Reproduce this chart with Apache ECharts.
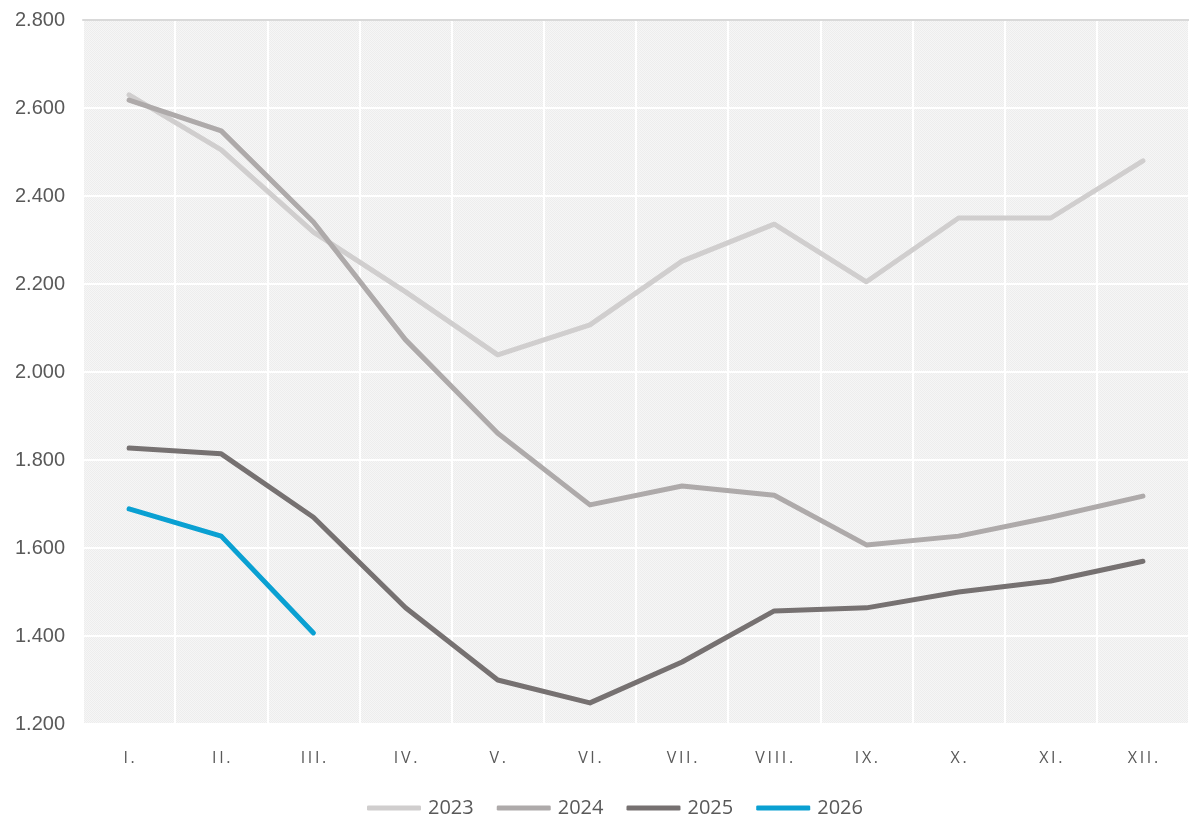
<!DOCTYPE html>
<html><head><meta charset="utf-8">
<script src="https://cdn.jsdelivr.net/npm/echarts@6/dist/echarts.min.js"></script>
<style>html,body{margin:0;padding:0;background:#fff}#c{width:1189px;height:816px}</style>
</head><body><div id="c"></div>
<script>
const categories = ['I.','II.','III.','IV.','V.','VI.','VII.','VIII.','IX.','X.','XI.','XII.'];
const s2023 = [2630,2505,2318,2182,2039,2107,2252,2336,2205,2350,2350,2480];
const s2024 = [2618,2548,2341,2073,1861,1698,1741,1720,1607,1627,1670,1718];
const s2025 = [1827,1814,1670,1464,1300,1248,1341,1457,1464,1500,1525,1570];
const s2026 = [1689,1627,1407];
const seriesNames = ['2023','2024','2025','2026'];
const seriesColors = ['#d0cece','#aeaaaa','#767171','#0aa0d2'];

// hatched background pattern
const pc = document.createElement('canvas');
pc.width = 4; pc.height = 4;
const px = pc.getContext('2d');
px.fillStyle = '#f6f6f6'; px.fillRect(0,0,4,4);
px.fillStyle = '#ededed';
px.fillRect(0,0,1,1); px.fillRect(2,0,1,1); px.fillRect(1,1,1,1); px.fillRect(3,1,1,1);
px.fillRect(0,2,1,1); px.fillRect(2,2,1,1); px.fillRect(1,3,1,1); px.fillRect(3,3,1,1);

const fmt = v => { const s = Math.round(v).toString(); return s.length>3 ? s.slice(0,s.length-3)+'.'+s.slice(-3) : s; };
const spaced = s => s.split('').join('\u2009');

const chart = echarts.init(document.getElementById('c'));
const data = [s2023,s2024,s2025,s2026];
chart.setOption({
  animation:false,
  grid:{left:83,top:20,right:-14,bottom:92,show:true,borderWidth:0,backgroundColor:{image:pc,repeat:'repeat'}},
  legend:{bottom:-7,left:362,itemWidth:54,itemHeight:5,itemGap:23,icon:'roundRect',
    textStyle:{color:'#595959',fontSize:20,fontFamily:'Open Sans',padding:[0,0,0,2]},
    data:seriesNames},
  xAxis:[{type:'category',data:categories,boundaryGap:true,
    axisLine:{show:false},axisTick:{show:false},
    axisLabel:{color:'#595959',fontSize:16,fontFamily:'Open Sans',margin:26,formatter:spaced},
    splitLine:{show:true,lineStyle:{color:'#ffffff',width:2}}},
    {type:'category',data:categories,position:'top',axisLine:{show:true,lineStyle:{color:'#d9d9d9',width:2}},
     axisTick:{show:false},axisLabel:{show:false},splitLine:{show:false}}],
  yAxis:{type:'value',min:1200,max:2800,interval:200,
    axisLine:{show:false},axisTick:{show:false},
    axisLabel:{color:'#595959',fontSize:20,fontFamily:'Liberation Sans',margin:18,formatter:fmt},
    splitLine:{lineStyle:{color:'#ffffff',width:2}}},
  series: seriesNames.map((n,i)=>({name:n,type:'line',data:data[i],symbol:'none',
    lineStyle:{color:seriesColors[i],width:5,cap:'round',join:'round'},itemStyle:{color:seriesColors[i]},z:2+i}))
});
</script></body></html>
